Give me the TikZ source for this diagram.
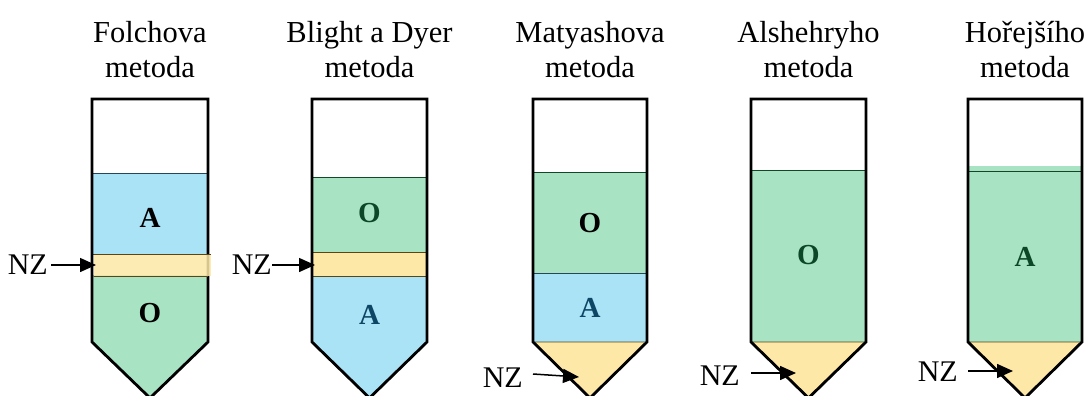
\documentclass[tikz,border=0pt]{standalone}
\usepackage{fontspec}
\setmainfont{Liberation Serif}
\usetikzlibrary{arrows.meta}
\definecolor{aqblue}{RGB}{170,226,246}
\definecolor{orgreen}{RGB}{168,227,196}
\definecolor{nzyellow}{RGB}{253,232,168}
\definecolor{edgegreen}{RGB}{20,70,40}
\definecolor{edgeblue}{RGB}{40,70,90}
\definecolor{edgeyellow}{RGB}{90,70,20}
\definecolor{txtblue}{RGB}{12,70,100}
\definecolor{txtgreen}{RGB}{12,72,40}
\tikzset{
  title/.style={align=center, font=\fontsize{30.5}{35}\selectfont, inner sep=0pt},
  phase/.style={font=\fontsize{29}{30}\bfseries\selectfont, inner sep=0pt},
  nzlabel/.style={font=\fontsize{30}{32}\selectfont, inner sep=0pt, anchor=east},
  nzarrow/.style={line width=1.5pt, -{Triangle[length=16pt,width=14pt]}},
  tube/.style={draw=black, line width=2.8pt, line join=miter},
  aq/.style={fill=aqblue, draw=edgeblue, line width=0.8pt},
  og/.style={fill=orgreen, draw=edgegreen, line width=0.8pt},
  nz/.style={fill=nzyellow, draw=edgeyellow, line width=0.8pt},
}
\begin{document}
\begin{tikzpicture}[x=1pt, y=-1pt]
\useasboundingbox (0,0) rectangle (1089,396);
\fill[white] (0,0) rectangle (1089,396);

% ---- Folch ----
\fill[aq] (92,173) rectangle (208,254);
\fill[og] (92,276) -- (208,276) -- (208,342) -- (150,398) -- (92,342) -- cycle;
\draw[tube] (92,99) -- (208,99) -- (208,342) -- (150,398) -- (92,342) -- cycle;
\fill[nzyellow, opacity=0.85] (94,254) rectangle (211,276);
\draw[edgeyellow, line width=0.8pt] (94,254) -- (211,254) (94,276) -- (208,276);
\node[title] (t1) at (150,50) {Folchova\\metoda};
\node[phase] (a1) at (150,218) {A};
\node[phase] (o1) at (150,313) {O};
\node[nzlabel] (nz1) at (48,265) {NZ};
\coordinate (p1) at (96,265);
\draw[nzarrow] (nz1.east) ++(3,0) -- (p1);

% ---- Blight a Dyer ----
\fill[og] (312,177) rectangle (427,252);
\fill[aq] (312,276) -- (427,276) -- (427,342) -- (369.5,398) -- (312,342) -- cycle;
\fill[nz] (312,252) rectangle (427,276);
\draw[tube] (312,99) -- (427,99) -- (427,342) -- (369.5,398) -- (312,342) -- cycle;
\node[title] (t2) at (369.5,50) {Blight a Dyer\\metoda};
\node[phase, text=txtgreen] (o2) at (369.5,213) {O};
\node[phase, text=txtblue] (a2) at (369.5,315) {A};
\node[nzlabel] (nz2) at (272,265) {NZ};
\coordinate (p2) at (315,265);
\draw[nzarrow] (nz2.east) -- (p2);

% ---- Matyash ----
\fill[og] (533,172) rectangle (647,273);
\fill[aq] (533,273) rectangle (647,342);
\fill[nz] (533,342) -- (647,342) -- (590,398) -- cycle;
\draw[tube] (533,99) -- (647,99) -- (647,342) -- (590,398) -- (533,342) -- cycle;
\node[title] (t3) at (590,50) {Matyashova\\metoda};
\node[phase] (o3) at (590,223) {O};
\node[phase, text=txtblue] (a3) at (590,308) {A};
\node[nzlabel] (nz3) at (523,378) {NZ};
\coordinate (p3) at (579,377);
\draw[nzarrow] (nz3.east) ++(10,-4) -- (p3);

% ---- Alshehry ----
\fill[og] (751,170) rectangle (866,342);
\fill[nz] (751,342) -- (866,342) -- (808.5,398) -- cycle;
\draw[tube] (751,99) -- (866,99) -- (866,342) -- (808.5,398) -- (751,342) -- cycle;
\node[title] (t4) at (808.5,50) {Alshehryho\\metoda};
\node[phase, text=txtgreen] (o4) at (808.5,255) {O};
\node[nzlabel] (nz4) at (740,376) {NZ};
\coordinate (p4) at (796,373);
\draw[nzarrow] (nz4.east) ++(11,-3) -- (p4);

% ---- Horejsi ----
\fill[orgreen] (968,166) rectangle (1082,171);
\fill[og] (968,171) rectangle (1082,342);
\fill[nz] (968,342) -- (1082,342) -- (1025,398) -- cycle;
\draw[tube] (968,99) -- (1082,99) -- (1082,342) -- (1025,398) -- (968,342) -- cycle;
\node[title] (t5) at (1025,50) {Hořejšího\\metoda};
\node[phase, text=txtgreen] (a5) at (1025,257) {A};
\node[nzlabel] (nz5) at (958,372) {NZ};
\coordinate (p5) at (1013,371);
\draw[nzarrow] (nz5.east) ++(10,-1) -- (p5);
\end{tikzpicture}
\end{document}
